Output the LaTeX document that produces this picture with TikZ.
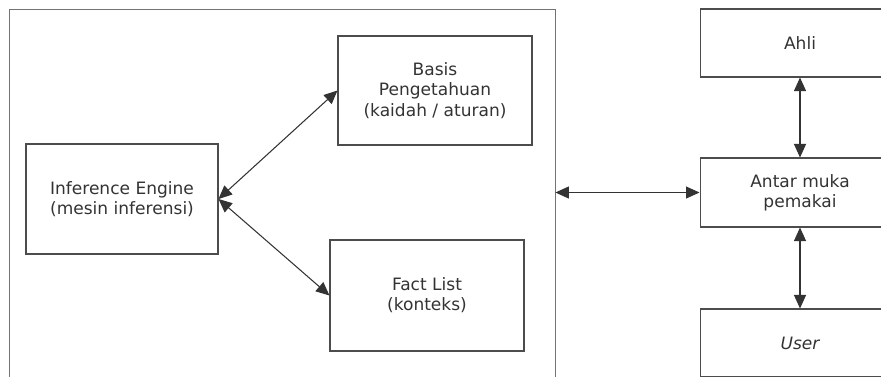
\documentclass[tikz,border=0pt]{standalone}
\usepackage{fontspec}
\setmainfont{DejaVu Sans}
\usepackage{tikz}
\usetikzlibrary{arrows.meta, positioning, calc}

\begin{document}
\begin{tikzpicture}[x=0.02cm, y=-0.02cm,
        box/.style={draw=black!70, line width=0.6pt, align=center, text=black!80, inner sep=0pt,
            font=\fontsize{9.7}{11.5}\selectfont},
        link/.style={{Triangle[length=0.27cm, width=0.24cm]}-{Triangle[length=0.27cm, width=0.24cm]},
            draw=black!80, line width=0.6pt}]
        \useasboundingbox (0,0) rectangle (881,376);
        % the system frame (runs out at the bottom)
        \node[draw=black!55, line width=0.5pt, minimum width=10.92cm, minimum height=7.82cm] (sys) at (282,204.5) {};
        \node[box, minimum width=3.84cm, minimum height=2.2cm] (inf) at (122,199) {Inference Engine\\(mesin inferensi)};
        \node[box, minimum width=3.88cm, minimum height=2.18cm] (basis) at (435,90.5) {Basis\\Pengetahuan\\(kaidah / aturan)};
        \node[box, minimum width=3.88cm, minimum height=2.22cm] (fact) at (427,295.5) {Fact List\\(konteks)};
        \node[box, minimum width=4cm, minimum height=1.36cm] (ahli) at (800,43) {Ahli};
        \node[box, minimum width=4cm, minimum height=1.38cm] (antar) at (800,192.5) {Antar muka\\pemakai};
        \node[box, minimum width=4cm, minimum height=1.36cm] (user) at (800,343) {\itshape User};
        \draw[link] (inf.east) -- (basis.west);
        \draw[link] (inf.east) -- (fact.west);
        \draw[link] (sys.east |- antar.west) -- (antar.west);
        \draw[link] (ahli.south) -- (antar.north);
        \draw[link] (antar.south) -- (user.north);
    \end{tikzpicture}
\end{document}
